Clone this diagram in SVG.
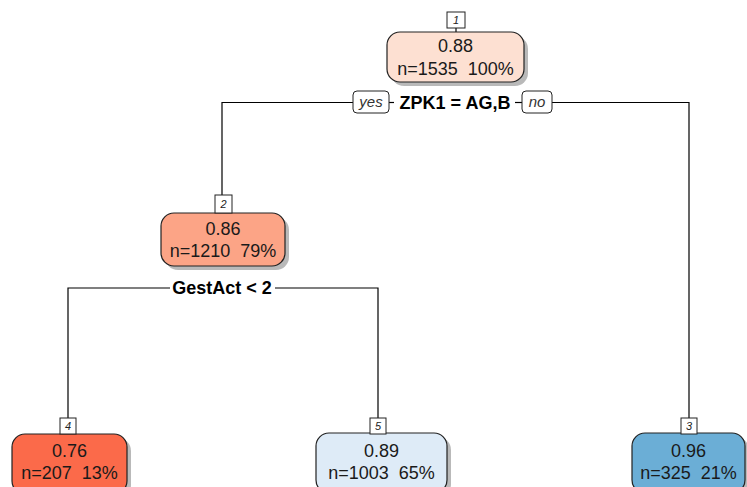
<svg xmlns="http://www.w3.org/2000/svg" width="747" height="487" viewBox="0 0 747 487">
<style>
.node{stroke:#222;stroke-width:1.2}
.shadow{fill:#8a8a8a;opacity:0.6}
.t{font-family:"Liberation Sans",Arial,sans-serif;font-size:18px;fill:#1a1a1a;text-anchor:middle;white-space:pre}
.split{font-family:"Liberation Sans",Arial,sans-serif;font-size:18px;font-weight:bold;fill:#000;text-anchor:middle}
.lbl{fill:#fff;stroke:#222;stroke-width:1}
.lt{font-family:"Liberation Sans",Arial,sans-serif;font-size:11px;font-style:italic;fill:#222;text-anchor:middle}
.yn{font-family:"Liberation Sans",Arial,sans-serif;font-size:15px;font-style:italic;fill:#333;text-anchor:middle}
.edge{fill:none;stroke:#000;stroke-width:1.2}
</style>
<rect width="747" height="487" fill="#fff"/>
<g id="connectors">
<polyline class="edge" points="222,195 222,102.5 353,102.5"/>
<line class="edge" x1="389" y1="102.5" x2="394" y2="102.5"/>
<line class="edge" x1="515" y1="102.5" x2="522" y2="102.5"/>
<polyline class="edge" points="552,102.5 689,102.5 689,418"/>
<polyline class="edge" points="68,418 68,288 170,288"/>
<polyline class="edge" points="275,288 378,288 378,418"/>
<line class="edge" x1="456" y1="28" x2="456" y2="32"/>
</g>
<g id="split1">
<rect class="lbl" x="353" y="91" width="36" height="22" rx="4"/>
<text class="yn" x="371" y="107">yes</text>
<text class="split" x="455" y="109">ZPK1 = AG,B</text>
<rect class="lbl" x="522" y="91" width="30" height="22" rx="4"/>
<text class="yn" x="537" y="107">no</text>
</g>
<g id="split2">
<text class="split" x="222" y="294">GestAct &lt; 2</text>
</g>
<g id="node1">
<rect class="shadow" x="391" y="36" width="137" height="50" rx="13"/>
<rect class="node" x="387" y="32" width="137" height="50" rx="13" fill="#fde0d2"/>
<rect class="lbl" x="447" y="12" width="18" height="16"/>
<text class="lt" x="456" y="24">1</text>
<text class="t" x="455.5" y="52">0.88</text>
<text class="t" x="455.5" y="75" xml:space="preserve">n=1535  100%</text>
</g>
<g id="node2">
<rect class="shadow" x="165" y="217" width="124" height="53" rx="13"/>
<rect class="node" x="161" y="213" width="124" height="53" rx="13" fill="#fca486"/>
<rect class="lbl" x="215" y="195" width="17" height="18"/>
<text class="lt" x="223.5" y="208">2</text>
<text class="t" x="223" y="235">0.86</text>
<text class="t" x="223" y="257" xml:space="preserve">n=1210  79%</text>
</g>
<g id="node4">
<rect class="shadow" x="16" y="438" width="115" height="60" rx="13"/>
<rect class="node" x="12" y="434" width="115" height="60" rx="13" fill="#fb6a4a"/>
<rect class="lbl" x="60" y="418" width="16" height="16"/>
<text class="lt" x="68" y="430">4</text>
<text class="t" x="69.5" y="457">0.76</text>
<text class="t" x="69.5" y="479" xml:space="preserve">n=207  13%</text>
</g>
<g id="node5">
<rect class="shadow" x="320" y="437" width="131" height="60" rx="13"/>
<rect class="node" x="316" y="433" width="131" height="60" rx="13" fill="#deebf7"/>
<rect class="lbl" x="370" y="418" width="16" height="16"/>
<text class="lt" x="378" y="430">5</text>
<text class="t" x="381.5" y="457">0.89</text>
<text class="t" x="381.5" y="479" xml:space="preserve">n=1003  65%</text>
</g>
<g id="node3">
<rect class="shadow" x="636" y="437" width="113" height="60" rx="13"/>
<rect class="node" x="632" y="433" width="113" height="60" rx="13" fill="#6baed6"/>
<rect class="lbl" x="681" y="418" width="16" height="16"/>
<text class="lt" x="689" y="430">3</text>
<text class="t" x="688.5" y="457">0.96</text>
<text class="t" x="688.5" y="479" xml:space="preserve">n=325  21%</text>
</g>
</svg>
